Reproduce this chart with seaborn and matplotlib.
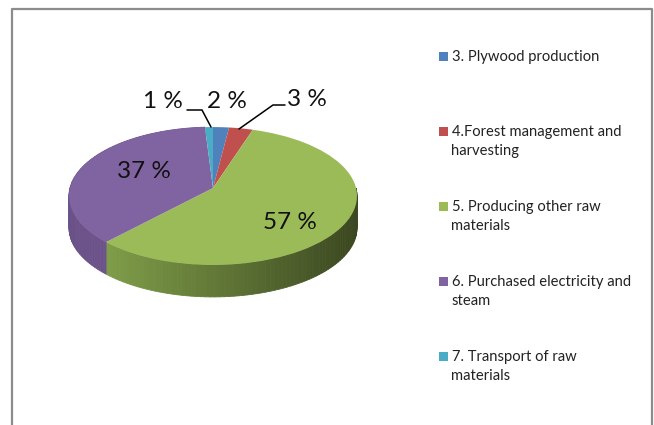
import numpy as np
import seaborn as sns
import matplotlib.pyplot as plt
from matplotlib.colors import to_rgb
from matplotlib.patches import Rectangle
from matplotlib.transforms import Transform

categories = [
    "3. Plywood production",
    "4.Forest management and\nharvesting",
    "5. Producing other raw\nmaterials",
    "6. Purchased electricity and\nsteam",
    "7. Transport of raw\nmaterials",
]
values = [2, 3, 57, 37, 1]
value_labels = ["2 %", "3 %", "57 %", "37 %", "1 %"]
colors = ["#4F81BD", "#C0504D", "#9BBB59", "#8064A2", "#4BACC6"]

# side wall shading, (left end, right end) of each visible slice
side_colors = {2: ("#7F9D48", "#3B4720"), 3: ("#6A5288", "#745A94")}

# pie geometry in pixels
CX, CY = 213, 188
RX, RY = 143, 68
TILT = 0.116
DEPTH = 32


class Tilt(Transform):
    # unit pie -> tilted ellipse, far side gets compressed like in the 3D original
    input_dims = 2
    output_dims = 2

    def transform_non_affine(self, xy):
        xy = np.asarray(xy, dtype=float)
        w = 1 + TILT * xy[:, 1]
        return np.column_stack([CX + RX * xy[:, 0] / w, CY - RY * xy[:, 1] / w])


sns.set_theme(style="white")
plt.rcParams["font.family"] = ["Lato", "DejaVu Sans"]

fig = plt.figure(figsize=(6.54, 4.25), dpi=100)
ax = fig.add_axes([0, 0, 1, 1])

palette = sns.color_palette(colors)
wedges, _ = ax.pie(values, colors=palette, startangle=90, counterclock=False,
                   wedgeprops={"linewidth": 0})
ax.set_aspect("auto")
ax.set_xlim(0, 654)
ax.set_ylim(425, 0)
ax.axis("off")

tilt = Tilt()
for wedge in wedges:
    wedge.set_transform(tilt + ax.transData)
    wedge.set_zorder(3)

# side wall, thin strips along the front rim
edges = 90 - 360 * np.cumsum([0] + values) / sum(values)
for i, (c_left, c_right) in side_colors.items():
    lo = max(edges[i + 1], -270)
    hi = min(edges[i], -90 if i == 3 else 0)
    angles = np.linspace(lo, hi, 80)
    rim = tilt.transform(np.column_stack([np.cos(np.radians(angles)), np.sin(np.radians(angles))]))
    span = rim[:, 0].max() - rim[:, 0].min()
    for a, b in zip(rim[:-1], rim[1:]):
        f = (a[0] - rim[:, 0].min()) / span
        col = (1 - f) * np.array(to_rgb(c_left)) + f * np.array(to_rgb(c_right))
        ax.fill([a[0], b[0], b[0], a[0]], [a[1], b[1], b[1] + DEPTH, a[1] + DEPTH],
                color=col, lw=0.6, zorder=2)

# data labels
label_pos = [(227, 101), (307, 99), (290, 222), (144, 171), (163, 101)]
for text, (x, y) in zip(value_labels, label_pos):
    ax.text(x, y, text, fontsize=17.5, color="#111111", ha="center", va="center", zorder=5)

# leader lines
ax.plot([187, 202, 211], [110, 110, 127], color="black", lw=1.1, zorder=4)
ax.plot([285, 273, 239], [105, 105, 129], color="black", lw=1.1, zorder=4)

# legend
legend_y = [56, 131, 206, 281, 356]
for name, col, y in zip(categories, palette, legend_y):
    ax.add_patch(Rectangle((439, y - 4), 8.7, 8.7, color=col, lw=0))
    ax.text(451.5, y - 6, name, fontsize=10.6, color="#222222", va="top", linespacing=1.45)

# chart frame, bottom edge is cut off in the source
ax.plot([12, 12, 652, 652], [425, 9, 9, 425], color="#8C8C8C", lw=1.6, zorder=1)

fig.savefig("out.png", dpi=100)
